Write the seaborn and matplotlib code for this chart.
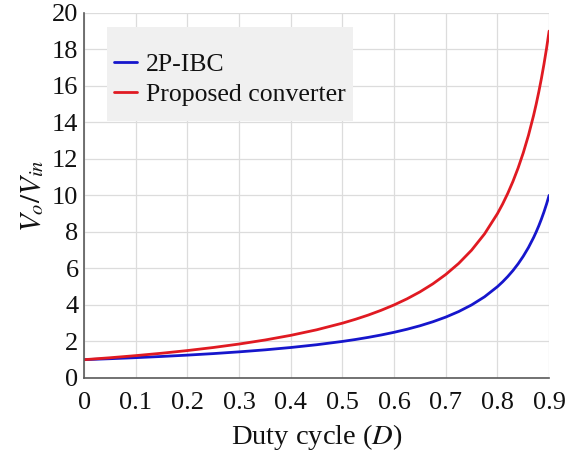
import matplotlib
matplotlib.use("Agg")
import matplotlib.pyplot as plt
from matplotlib.patches import Rectangle
import seaborn as sns
import pandas as pd

# Duty cycle samples
duty = [0.0, 0.05, 0.1, 0.15, 0.2, 0.25, 0.3, 0.35, 0.4, 0.45, 0.5,
        0.525, 0.55, 0.575, 0.6, 0.625, 0.65, 0.675, 0.7, 0.725, 0.75,
        0.775, 0.8, 0.81, 0.82, 0.83, 0.84, 0.85, 0.86, 0.87, 0.875,
        0.88, 0.885, 0.89, 0.895, 0.9]

# 2P-IBC gain
gain_ibc = [1.0, 1.053, 1.111, 1.176, 1.25, 1.333, 1.429, 1.538, 1.667, 1.818, 2.0,
            2.105, 2.222, 2.353, 2.5, 2.667, 2.857, 3.077, 3.333, 3.636, 4.0,
            4.444, 5.0, 5.263, 5.556, 5.882, 6.25, 6.667, 7.143, 7.692, 8.0,
            8.333, 8.696, 9.091, 9.524, 10.0]

# Proposed converter gain
gain_prop = [1.0, 1.105, 1.222, 1.353, 1.5, 1.667, 1.857, 2.077, 2.333, 2.636, 3.0,
             3.211, 3.444, 3.706, 4.0, 4.333, 4.714, 5.154, 5.667, 6.273, 7.0,
             7.889, 9.0, 9.526, 10.111, 10.765, 11.5, 12.333, 13.286, 14.385, 15.0,
             15.667, 16.391, 17.182, 18.048, 19.0]

series_names = ["2P-IBC", "Proposed converter"]
x_ticks = [0, 0.1, 0.2, 0.3, 0.4, 0.5, 0.6, 0.7, 0.8, 0.9]
x_tick_labels = ["0", "0.1", "0.2", "0.3", "0.4", "0.5", "0.6", "0.7", "0.8", "0.9"]
y_ticks = [0, 2, 4, 6, 8, 10, 12, 14, 16, 18, 20]

df = pd.concat([
    pd.DataFrame({"D": duty, "gain": gain_ibc, "series": series_names[0]}),
    pd.DataFrame({"D": duty, "gain": gain_prop, "series": series_names[1]}),
], ignore_index=True)

sns.set_theme(style="white")
plt.rcParams["font.family"] = ["Liberation Serif", "DejaVu Serif"]
plt.rcParams["mathtext.fontset"] = "stix"

fig = plt.figure(figsize=(5.72, 4.57), dpi=100)
ax = fig.add_axes([0.147, 0.173, 0.813, 0.799])

sns.lineplot(data=df, x="D", y="gain", hue="series",
             palette={"2P-IBC": "#1616cc", "Proposed converter": "#e01a22"},
             linewidth=2.0, ax=ax, legend=True)

ax.set_xlim(0, 0.9)
ax.set_ylim(0, 20)
ax.set_xticks(x_ticks)
ax.set_xticklabels(x_tick_labels)
ax.set_yticks(y_ticks)
ax.grid(True, color="#dcdcdc", linewidth=0.9)
ax.set_axisbelow(True)

for s in ["top", "right"]:
    ax.spines[s].set_visible(False)
for s in ["left", "bottom"]:
    ax.spines[s].set_color("#5a5a5a")
    ax.spines[s].set_linewidth(1.2)

ax.tick_params(axis="both", direction="in", length=4, width=1.0, color="#5a5a5a",
               labelsize=19, labelcolor="#111111")
ax.tick_params(axis="y", pad=4)
ax.tick_params(axis="x", pad=10)

ax.set_xlabel("Duty cycle ($D$)", fontsize=20.5, color="#111111", labelpad=6)
ax.set_ylabel("$V_o/V_{in}$", fontsize=21, color="#111111", labelpad=4)

# legend background panel
ax.add_patch(Rectangle((0.0495, 0.704), 0.5285, 0.258, transform=ax.transAxes,
                       facecolor="#f0f0f0", edgecolor="none", zorder=3))

leg = ax.legend(loc="upper left", bbox_to_anchor=(0.02, 0.947), frameon=False,
                fontsize=18.5, handlelength=0.9, handletextpad=0.35,
                borderpad=0.3, labelspacing=0.3, title=None)
leg.set_zorder(4)
for line in leg.get_lines():
    line.set_linewidth(2.0)
for t in leg.get_texts():
    t.set_color("#111111")

fig.savefig("out.png", dpi=100)
